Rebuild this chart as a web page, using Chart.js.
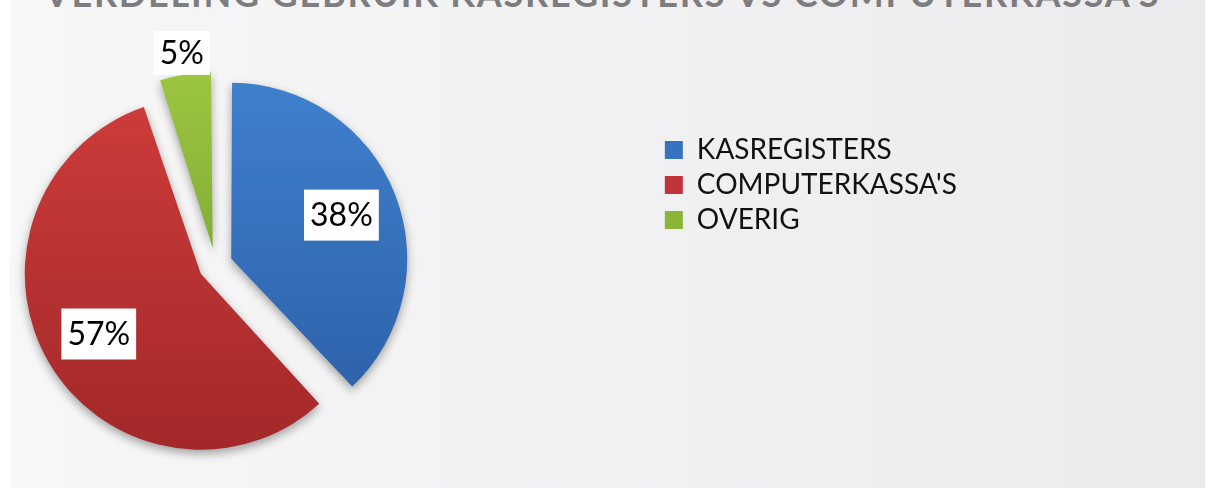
<!DOCTYPE html>
<html>
<head>
<meta charset="utf-8">
<script src="https://cdn.jsdelivr.net/npm/chart.js@4.4.1/dist/chart.umd.min.js"></script>
<style>
  html, body { margin: 0; padding: 0; background: #fff; }
  body { width: 1215px; height: 488px; overflow: hidden; position: relative; font-family: Lato, sans-serif; }
  #panel { position: absolute; left: 10px; top: 0; width: 1195px; height: 488px;
           background: linear-gradient(to right, #f7f7f8, #ebebed); }
  #title { position: absolute; left: 5px; width: 1195px; top: -25px; text-align: center;
           font: bold 36px Lato; line-height: 36px; color: #7d7d80; white-space: nowrap;
           letter-spacing: 1.8px; }
  #chartBox { position: absolute; left: -227px; top: 0; width: 1442px; height: 488px; }
</style>
</head>
<body>
<div id="panel"></div>
<div id="title">VERDELING GEBRUIK KASREGISTERS VS COMPUTERKASSA'S</div>
<div id="chartBox"><canvas id="pieChart"></canvas></div>
<script>
const labels = ["KASREGISTERS", "COMPUTERKASSA'S", "OVERIG"];
const values = [38, 57, 5];
const valueLabels = ["38%", "57%", "5%"];

// kleuren: boven / onder van de gradient, en effen kleur voor de legenda
const topColors = ["#3f80cd", "#cd3c3a", "#9cc640"];
const bottomColors = ["#2c5ea6", "#a3282a", "#6a962a"];
const legendColors = ["#3672bf", "#c1333a", "#8ab536"];

const pieRadius = 176;

const sliceGradient = (c) => {
    const chart = c.chart;
    const area = chart.chartArea;
    const i = c.dataIndex;
    if (!area) return legendColors[i];
    const cy = (area.top + area.bottom) / 2;
    const g = chart.ctx.createLinearGradient(0, cy - pieRadius, 0, cy + pieRadius);
    g.addColorStop(0, topColors[i]);
    g.addColorStop(1, bottomColors[i]);
    return g;
};

// Chart.js maakt uitgeschoven stukken ook groter; dat hier terugdraaien
const keepRadius = {
    id: "keepRadius",
    beforeDatasetsDraw(chart) {
        const meta = chart.getDatasetMeta(0);
        const R = meta.controller.outerRadius;
        meta.data.forEach(arc => {
            const circ = arc.endAngle - arc.startAngle;
            const fix = 1 - Math.sin(Math.min(Math.PI, circ));
            arc.outerRadius = R - (arc.options.offset / 4) * fix;
        });
    }
};

// zachte schaduw onder de taart
const pieShadow = {
    id: "pieShadow",
    beforeDatasetsDraw(chart) {
        const ctx = chart.ctx;
        ctx.save();
        ctx.shadowColor = "rgba(0, 0, 0, 0.35)";
        ctx.shadowBlur = 10;
        ctx.shadowOffsetY = 4;
    },
    afterDatasetsDraw(chart) {
        chart.ctx.restore();
    }
};

// percentages in witte vakjes
const sliceLabels = {
    id: "sliceLabels",
    afterDatasetsDraw(chart) {
        const ctx = chart.ctx;
        const arcs = chart.getDatasetMeta(0).data;
        ctx.save();
        ctx.font = "32px Lato";
        ctx.textAlign = "center";
        ctx.textBaseline = "middle";
        arcs.forEach((arc, i) => {
            const mid = (arc.startAngle + arc.endAngle) / 2;
            const outside = values[i] < 10;
            const dist = pieRadius * (outside ? 1.22 : 0.77);
            const lx = arc.x + Math.cos(mid) * dist;
            const ly = arc.y + Math.sin(mid) * dist;
            const text = valueLabels[i];
            const w = ctx.measureText(text).width + 12;
            const h = outside ? 44 : 51;
            ctx.fillStyle = "#fff";
            ctx.fillRect(lx - w / 2, ly - h / 2, w, h);
            ctx.fillStyle = "#000";
            ctx.fillText(text, lx, ly + 1);
        });
        ctx.restore();
    }
};

new Chart(document.getElementById("pieChart"), {
    type: "pie",
    data: {
        labels: labels,
        datasets: [{
            data: values,
            backgroundColor: sliceGradient,
            borderWidth: 0,
            offset: 68,
            radius: pieRadius,
            clip: false
        }]
    },
    options: {
        responsive: true,
        maintainAspectRatio: false,
        animation: false,
        layout: { padding: { top: 129, bottom: 87, left: 0, right: 248 } },
        plugins: {
            tooltip: { enabled: false },
            legend: {
                position: "right",
                align: "start",
                labels: {
                    font: { family: "Lato", size: 28 },
                    color: "#111",
                    boxWidth: 18,
                    boxHeight: 18,
                    padding: 7,
                    generateLabels: (chart) => {
                        const items = Chart.overrides.pie.plugins.legend.labels.generateLabels(chart);
                        items.forEach((item, i) => {
                            item.fillStyle = legendColors[i];
                            item.strokeStyle = legendColors[i];
                            item.lineWidth = 0;
                        });
                        return items;
                    }
                }
            }
        }
    },
    plugins: [keepRadius, pieShadow, sliceLabels]
});
</script>
</body>
</html>
